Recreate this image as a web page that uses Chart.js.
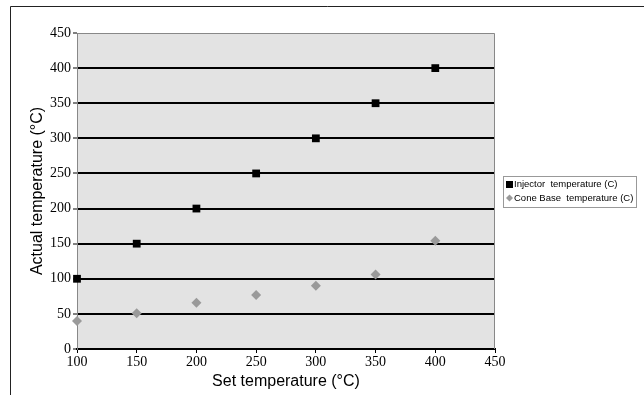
<!DOCTYPE html>
<html>
<head>
<meta charset="utf-8">
<script src="https://cdn.jsdelivr.net/npm/chart.js@4/dist/chart.umd.min.js"></script>
<style>
  html, body { margin: 0; padding: 0; background: #fff; }
  #wrap { width: 644px; height: 395px; position: relative; }
</style>
</head>
<body>
<div id="wrap"><canvas id="chart-area"></canvas></div>
<script>
// set temperatures (x) and the two measured series
var setTemps = [100, 150, 200, 250, 300, 350, 400];
var injectorTemps = [100, 150, 200, 250, 300, 350, 400];
var coneBaseTemps = [40, 51, 66, 77, 90, 106, 154];
var seriesNames = ["Injector  temperature (C)", "Cone Base  temperature (C)"];

const toPoints = vals => vals.map((v, i) => ({ x: setTemps[i], y: v }));

// plot background, grey frame, outer border and boxed legend
var decor = {
  id: "decor",
  beforeDraw: function(chart) {
    var c = chart.ctx, a = chart.chartArea;
    c.save();
    c.fillStyle = "#e3e3e3";
    c.fillRect(a.left, a.top, a.right - a.left, a.bottom - a.top);
    c.restore();
  },
  beforeDatasetsDraw: function(chart) {
    var c = chart.ctx, a = chart.chartArea;
    c.save();
    c.strokeStyle = "#888";
    c.lineWidth = 1;
    c.beginPath();
    c.moveTo(a.left + 0.5, a.bottom);
    c.lineTo(a.left + 0.5, a.top + 0.5);
    c.lineTo(a.right - 0.5, a.top + 0.5);
    c.lineTo(a.right - 0.5, a.bottom);
    c.stroke();
    c.restore();
  },
  afterDatasetsDraw: function(chart) {
    var c = chart.ctx;
    c.save();
    // outer chart border (top and left only visible)
    c.strokeStyle = "#222";
    c.lineWidth = 1;
    c.beginPath();
    c.moveTo(10.5, 395);
    c.lineTo(10.5, 6.5);
    c.lineTo(644, 6.5);
    c.stroke();

    // legend
    var lx = 503, ly = 176;
    c.strokeStyle = "#999";
    c.strokeRect(lx + 0.5, ly + 0.5, 133, 31);
    c.font = "9.5px 'Liberation Sans', Arial, sans-serif";
    c.textBaseline = "middle";
    chart.data.datasets.forEach(function(ds, i) {
      var yy = ly + 8 + i * 14;
      c.fillStyle = ds.backgroundColor;
      if (i === 0) {
        c.fillRect(lx + 3, yy - 3, 7, 7);
      } else {
        c.beginPath();
        c.moveTo(lx + 6.5, yy - 3.5);
        c.lineTo(lx + 10, yy);
        c.lineTo(lx + 6.5, yy + 3.5);
        c.lineTo(lx + 3, yy);
        c.closePath();
        c.fill();
      }
      c.fillStyle = "#000";
      c.fillText(ds.label, lx + 11, yy + 0.5);
    });
    c.restore();
  }
};

var ctx = document.getElementById("chart-area").getContext("2d");
var myChart = new Chart(ctx, {
  type: "scatter",
  data: {
    datasets: [
      {
        label: seriesNames[0],
        data: toPoints(injectorTemps),
        backgroundColor: "#000",
        borderColor: "#000",
        pointStyle: "rect",
        pointRadius: 5.5,
        borderWidth: 0,
        clip: false
      },
      {
        label: seriesNames[1],
        data: toPoints(coneBaseTemps),
        backgroundColor: "#9a9a9a",
        borderColor: "#9a9a9a",
        pointStyle: "rectRot",
        pointRadius: 5,
        borderWidth: 0,
        clip: false
      }
    ]
  },
  options: {
    responsive: true,
    maintainAspectRatio: false,
    animation: false,
    layout: { padding: { left: 10, top: 33, right: 149, bottom: 0 } },
    plugins: {
      legend: { display: false },
      tooltip: { enabled: false }
    },
    scales: {
      x: {
        type: "linear",
        min: 100,
        max: 450,
        afterFit: function(s) { s.height = 46; },
        ticks: {
          stepSize: 50,
          color: "#000",
          padding: 1,
          font: { family: "'Liberation Serif', 'Times New Roman', serif", size: 14 }
        },
        grid: {
          drawOnChartArea: false,
          drawTicks: true,
          tickLength: 4,
          tickColor: "#000",
          tickWidth: 1
        },
        border: { color: "#000", width: 2 },
        title: {
          display: true,
          text: "Set temperature (°C)",
          color: "#000",
          padding: { top: 0 },
          font: { family: "'Liberation Sans', Arial, sans-serif", size: 16 }
        }
      },
      y: {
        min: 0,
        max: 450,
        afterFit: function(s) { s.width = 67; },
        ticks: {
          stepSize: 50,
          color: "#000",
          padding: 2,
          font: { family: "'Liberation Serif', 'Times New Roman', serif", size: 14 }
        },
        grid: {
          color: function(c) { return c.tick && c.tick.value === 450 ? "rgba(0,0,0,0)" : "#000"; },
          lineWidth: 2,
          drawTicks: true,
          tickLength: 4,
          tickColor: "#000",
          tickWidth: 1
        },
        border: { color: "#888", width: 1 },
        title: {
          display: true,
          text: "Actual temperature (°C)",
          color: "#000",
          padding: { top: 18 },
          font: { family: "'Liberation Sans', Arial, sans-serif", size: 16 }
        }
      }
    }
  },
  plugins: [decor]
});
</script>
</body>
</html>
